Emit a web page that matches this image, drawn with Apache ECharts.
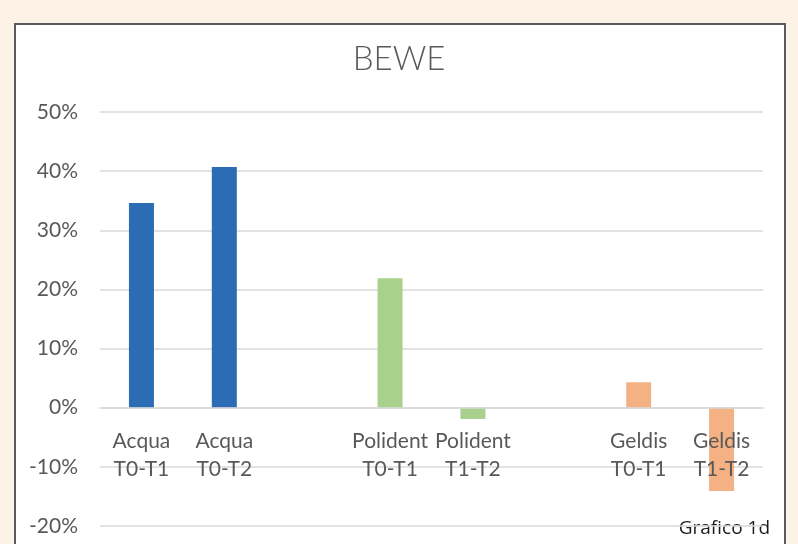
<!DOCTYPE html>
<html>
<head>
<meta charset="utf-8">
<script src="https://cdn.jsdelivr.net/npm/echarts@6/dist/echarts.min.js"></script>
<style>
  html, body { margin: 0; padding: 0; background: #fdf2e6; }
  #chart { width: 798px; height: 544px; }
</style>
</head>
<body>
<div id="chart"></div>
<script>
// categorie (slot vuoti tra i gruppi)
var categories = ["Acqua\nT0-T1", "Acqua\nT0-T2", "", "Polident\nT0-T1", "Polident\nT1-T2", "", "Geldis\nT0-T1", "Geldis\nT1-T2"];
var values = [34.6, 40.7, null, 21.9, -1.9, null, 4.3, -14.1];
var groups = ["Acqua", "Acqua", "", "Polident", "Polident", "", "Geldis", "Geldis"];
var groupColors = { Acqua: "#2b6cb4", Polident: "#a9d18e", Geldis: "#f4b183" };
var yTicks = { min: -20, max: 50, step: 10 };

var myChart = echarts.init(document.getElementById("chart"));
myChart.setOption({
  backgroundColor: "#fdf2e6",
  textStyle: { fontFamily: "Lato" },
  title: {
    text: "BEWE",
    left: "center",
    top: 38,
    textStyle: { fontSize: 33, fontWeight: 300, color: "#595959", fontFamily: "Lato" }
  },
  graphic: [
    {
      type: "rect",
      z: -1,
      shape: { x: 15, y: 24, width: 770, height: 540 },
      style: { fill: "#ffffff", stroke: "#5a5a5a", lineWidth: 2 }
    },
    {
      type: "text",
      right: 28,
      bottom: 6,
      style: { text: "Grafico 1d", fontSize: 19, fill: "#1a1a1a", fontFamily: "Open Sans" }
    }
  ],
  grid: { left: 100, right: 35, top: 112, bottom: 18, outerBoundsMode: "none", containLabel: false },
  xAxis: {
    type: "category",
    data: categories,
    z: 10,
    axisLine: { onZero: true, lineStyle: { color: "#d9d9d9", width: 1.5 } },
    axisTick: { show: false },
    // etichette sotto la linea dello zero, come nell'originale
    axisLabel: { interval: 0, color: "#595959", fontSize: 21, lineHeight: 28, margin: -99 }
  },
  yAxis: {
    type: "value",
    min: yTicks.min,
    max: yTicks.max,
    interval: yTicks.step,
    axisLabel: { formatter: "{value}%", color: "#595959", fontSize: 21, margin: 22 },
    splitLine: { lineStyle: { color: "#d9d9d9", width: 1.5 } }
  },
  series: [
    {
      type: "bar",
      barWidth: 25,
      data: values.map(function (v, i) {
        return { value: v, itemStyle: { color: groupColors[groups[i]] || "#ccc" } };
      })
    }
  ]
});
</script>
</body>
</html>
